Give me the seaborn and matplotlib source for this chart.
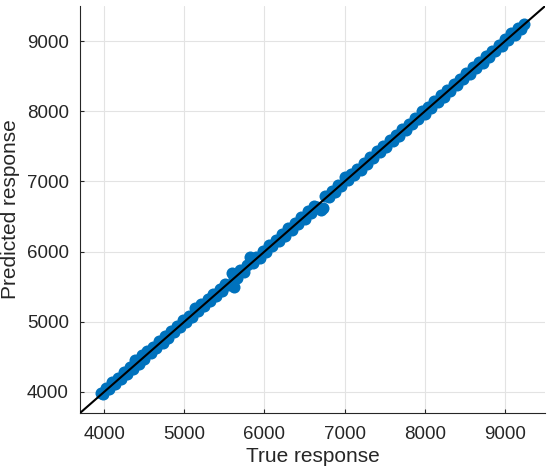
import numpy as np
import pandas as pd
import matplotlib
matplotlib.use("Agg")
import matplotlib.pyplot as plt
import seaborn as sns

# true vs predicted response values
true_resp = [
    3960, 3990, 4030, 4065, 4100, 4140, 4170, 4210, 4250, 4280,
    4320, 4355, 4390, 4430, 4470, 4500, 4540, 4580, 4615, 4650,
    4690, 4730, 4760, 4800, 4840, 4875, 4910, 4950, 4990, 5020,
    5060, 5100, 5140, 5175, 5210, 5250, 5290, 5320, 5360, 5400,
    5440, 5470, 5510, 5550, 5590, 5615, 5620, 5660, 5700, 5740,
    5780, 5825, 5860, 5900, 5940, 5980, 6020, 6060, 6100, 6140,
    6180, 6220, 6260, 6300, 6340, 6380, 6420, 6460, 6500, 6540,
    6580, 6620, 6660, 6700, 6725, 6760, 6800, 6840, 6880, 6920,
    6960, 7000, 7040, 7080, 7120, 7160, 7200, 7240, 7280, 7320,
    7360, 7400, 7440, 7480, 7520, 7560, 7600, 7640, 7680, 7720,
    7760, 7800, 7840, 7880, 7920, 7960, 8000, 8040, 8080, 8120,
    8160, 8200, 8240, 8280, 8320, 8360, 8400, 8440, 8480, 8520,
    8560, 8600, 8640, 8680, 8720, 8760, 8800, 8840, 8880, 8920,
    8960, 9000, 9040, 9080, 9120, 9160, 9200, 9240,
]
pred_resp = [
    3985, 3970, 4060, 4040, 4135, 4120, 4205, 4185, 4290, 4255,
    4350, 4330, 4450, 4400, 4530, 4470, 4590, 4550, 4640, 4625,
    4720, 4700, 4795, 4770, 4870, 4850, 4940, 4920, 5030, 4995,
    5085, 5075, 5190, 5150, 5255, 5220, 5320, 5290, 5400, 5370,
    5470, 5440, 5545, 5520, 5690, 5500, 5640, 5630, 5735, 5710,
    5810, 5920, 5840, 5930, 5915, 6015, 5990, 6100, 6075, 6165,
    6150, 6250, 6230, 6330, 6310, 6410, 6390, 6490, 6470, 6575,
    6555, 6650, 6635, 6600, 6620, 6790, 6775, 6870, 6850, 6955,
    6935, 7060, 7015, 7110, 7095, 7185, 7170, 7270, 7255, 7345,
    7335, 7430, 7420, 7505, 7495, 7590, 7570, 7660, 7650, 7745,
    7735, 7825, 7815, 7910, 7885, 8000, 7965, 8060, 8045, 8150,
    8135, 8235, 8200, 8305, 8290, 8385, 8370, 8465, 8455, 8545,
    8535, 8625, 8615, 8705, 8695, 8785, 8775, 8865, 8855, 8945,
    8935, 9030, 9015, 9110, 9095, 9185, 9175, 9245,
]
tick_vals = [4000, 5000, 6000, 7000, 8000, 9000]

df = pd.DataFrame({"True response": true_resp, "Predicted response": pred_resp})

sns.set_style("white")
plt.rcParams["font.family"] = ["Liberation Sans", "DejaVu Sans"]

fig = plt.figure(figsize=(5.5, 4.69), dpi=100)
ax = fig.add_axes([0.1455, 0.1194, 0.8455, 0.8676])

sns.scatterplot(
    data=df,
    x="True response",
    y="Predicted response",
    color="#0072BD",
    s=75,
    linewidth=0,
    alpha=1,
    ax=ax,
    zorder=2,
)
# perfect prediction line
ax.axline((4000, 4000), slope=1, color="black", linewidth=1.5, zorder=3)

ax.set_xlim(3700, 9500)
ax.set_ylim(3700, 9500)
ax.set_xticks(tick_vals)
ax.set_yticks(tick_vals)
ax.grid(True, color="#e3e3e3", linewidth=0.8)
ax.set_axisbelow(True)

for side in ["top", "right"]:
    ax.spines[side].set_visible(False)
for side in ["left", "bottom"]:
    ax.spines[side].set_color("#262626")
    ax.spines[side].set_linewidth(0.8)

ax.tick_params(direction="in", length=3, width=0.8, colors="#262626",
               labelsize=13.5, left=True, bottom=True)
ax.tick_params(axis="y", pad=8)
ax.tick_params(axis="x", pad=9)
ax.set_xlabel("True response", fontsize=15, color="#262626", labelpad=3)
ax.set_ylabel("Predicted response", fontsize=15, color="#262626", labelpad=5)

fig.savefig("out.png", dpi=100)
